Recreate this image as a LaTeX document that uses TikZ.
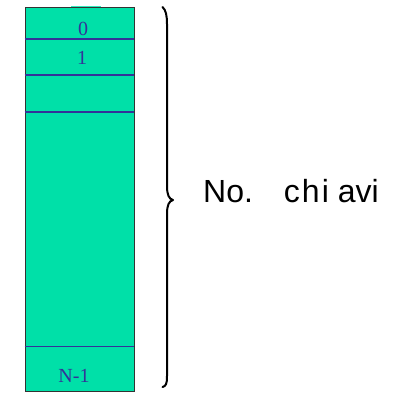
\documentclass[tikz,border=0pt]{standalone}
\usepackage{fontspec}
\setmainfont{Liberation Serif}
\newfontfamily\labelfont{Liberation Sans}
\definecolor{cellfill}{HTML}{00E0A8}
\definecolor{cellline}{HTML}{333399}
\definecolor{boxedge}{HTML}{333333}
\definecolor{toplight}{HTML}{33E8BC}
\tikzset{
  celltext/.style={text=cellline, font=\fontsize{20}{20}\selectfont, inner sep=0pt, anchor=base},
  sepline/.style={draw=cellline, line width=1.3pt},
  bracestyle/.style={draw=black, line width=2pt, line cap=round, line join=round},
}
\begin{document}
\begin{tikzpicture}[x=1pt,y=-1pt]
\useasboundingbox (0,0) rectangle (396,392);
% table
\node[draw=boxedge, fill=cellfill, line width=1pt, minimum width=109pt, minimum height=384.5pt, inner sep=0pt, anchor=north west] (tab) at (24.7,6.5) {};
\draw[toplight, line width=1.1pt] (71,6.5) -- (101,6.5);
\coordinate (l1a) at (24.7,39); \coordinate (l1b) at (133.7,39);
\coordinate (l2a) at (24.7,75); \coordinate (l2b) at (133.7,75);
\coordinate (l3a) at (24.7,112); \coordinate (l3b) at (133.7,112);
\coordinate (l4a) at (24.7,346.5); \coordinate (l4b) at (133.7,346.5);
\path[sepline] (l1a) -- (l1b);
\path[sepline] (l2a) -- (l2b);
\path[sepline] (l3a) -- (l3b);
\path[sepline] (l4a) -- (l4b);
\node[celltext] (c0) at (83,35) {0};
\node[celltext] (c1) at (82,64) {1};
\node[celltext] (cn) at (74,382) {N-1};
% brace
\coordinate (btop) at (162.5,7);
\coordinate (btip) at (173,200);
\coordinate (bbot) at (162.5,387);
\path[bracestyle] (btop) .. controls (166,10) and (167,16) .. (167,24)
  -- (167,186) .. controls (167,195) and (169,199) .. (btip)
  .. controls (169,201) and (167,205) .. (167,214)
  -- (167,376) .. controls (167,384) and (166,386) .. (bbot);
% label
\node[anchor=base west, inner sep=0pt, font=\labelfont\fontsize{32}{32}\selectfont] (lab) at (203,202) {No.\hspace{31pt}c\kern2pt h\kern2pt i\hspace{9pt}avi};
\end{tikzpicture}
\end{document}
